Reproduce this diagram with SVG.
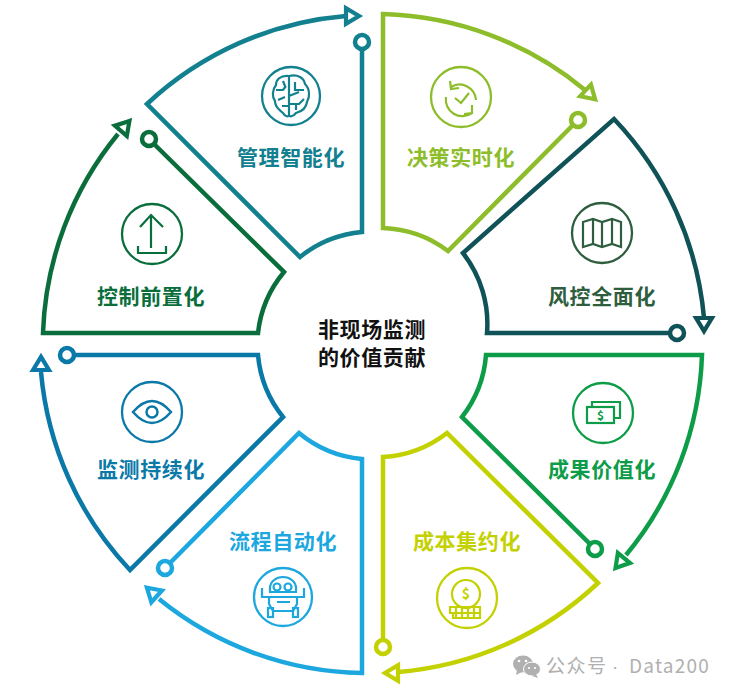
<svg xmlns="http://www.w3.org/2000/svg" width="733" height="696" viewBox="0 0 733 696">
<style>
text{font-family:"Noto Sans CJK SC","Noto Sans",sans-serif}
.lab{font-size:21px;font-weight:700;text-anchor:middle;letter-spacing:.6px}
.ctr{font-size:21px;font-weight:700;text-anchor:middle;fill:#111;letter-spacing:.6px}
.seg{fill:none;stroke:currentColor;stroke-width:4.5;stroke-linejoin:miter;stroke-miterlimit:10}
.dot{fill:#fff;stroke:currentColor;stroke-width:4.5}
.ic{fill:none;stroke:currentColor;stroke-width:2.2}
.ring{fill:none;stroke:currentColor;stroke-width:2.3}
.tip{fill:#fff;stroke:currentColor;stroke-width:4.200;stroke-linejoin:miter;stroke-miterlimit:10}
.cur{font-size:12px;font-weight:700;text-anchor:middle}
</style>
<defs>
<polygon id="ah" class="tip" points="-3.900,0 -17,-7.900 -17,7.900"/>
</defs>
<rect width="733" height="696" fill="#fff"/>
<g id="connectors">
<g style="color:#8dbd2a"><path class="seg" d="M585 90A331 331 0 0 0 383 14V228A115 115 0 0 1 448 251L574 124"/><use href="#ah" transform="translate(598 102) rotate(43)"/></g>
<g style="color:#0f5257"><path class="seg" d="M704 318A331 331 0 0 0 614 119L463 253A115 115 0 0 1 487 333H672"/><use href="#ah" transform="translate(704 335) rotate(90)"/></g>
<g style="color:#0d9c47"><path class="seg" d="M626 555A331 331 0 0 0 702 355H486A115 115 0 0 1 462 417L591 545"/><use href="#ah" transform="translate(613 571) rotate(130)"/></g>
<g style="color:#c3d100"><path class="seg" d="M398 672A331 331 0 0 0 598 583L447 433A115 115 0 0 1 383 457V641"/><use href="#ah" transform="translate(381 673) rotate(180)"/></g>
<g style="color:#1ca7df"><path class="seg" d="M159 599A331 331 0 0 0 362 673V459A115 115 0 0 1 299 433L169 564"/><use href="#ah" transform="translate(144 585) rotate(-138)"/></g>
<g style="color:#0a79a8"><path class="seg" d="M41 372A331 331 0 0 0 130 570L283 417A115 115 0 0 1 258 355H72"/><use href="#ah" transform="translate(41 353) rotate(-90)"/></g>
<g style="color:#0a6e3c"><path class="seg" d="M118 134A331 331 0 0 0 43 333H258A115 115 0 0 1 284 272L153 143"/><use href="#ah" transform="translate(132 118) rotate(-49)"/></g>
<g style="color:#12808f"><path class="seg" d="M346 16A331 331 0 0 0 147 104L300 257A115 115 0 0 1 362 232V47"/><use href="#ah" transform="translate(363 16)"/></g>
</g>
<g id="center"><text class="ctr" x="372" y="337">非现场监测</text><text class="ctr" x="372" y="365">的价值贡献</text></g>
<g id="n1" style="color:#8dbd2a">
<circle class="dot" cx="578" cy="120" r="7"/>
<circle class="ring" cx="461" cy="97" r="30"/>
<path class="ic" d="M451 87A16.500 16.500 0 0 1 476 100M450 81L451 89L459 88M446 97A16.500 16.500 0 0 0 472 113M472 105V113L464 114M455 98L461 103L469 93"/>
<text class="lab" x="461" y="165" fill="#8dbd2a">决策实时化</text>
</g>
<g id="n2" style="color:#2e5e3e">
<circle class="dot" cx="677" cy="333" r="7" style="color:#0f5257"/>
<circle class="ring" cx="602" cy="233" r="30"/>
<path class="ic" d="M583 222L593 219L602 222L612 219L621 222V247L612 244L602 247L593 244L583 247ZM593 219V244M602 222V247M612 219V244"/>
<text class="lab" x="602" y="304" fill="#2e5e3e">风控全面化</text>
</g>
<g id="n3" style="color:#0d9c47">
<circle class="dot" cx="595" cy="549" r="7"/>
<circle class="ring" cx="603" cy="413" r="30"/>
<path class="ic" d="M592 407V402H620V418H614"/><rect class="ic" x="587" y="407" width="27" height="16"/>
<text class="cur" x="600.500" y="420" fill="#0d9c47">$</text>
<text class="lab" x="602" y="477" fill="#0d9c47">成果价值化</text>
</g>
<g id="n4" style="color:#c3d100">
<circle class="dot" cx="383" cy="647" r="7"/>
<circle class="ring" cx="467" cy="598" r="30"/>
<circle class="ic" cx="466" cy="594" r="14"/>
<path class="ic" d="M450 607H480V613H450ZM453 613H480V618H453ZM456 607V618M462 607V618M468 607V618M474 607V618"/>
<text class="cur" x="466" y="599" style="font-size:14px" fill="#c3d100">$</text>
<text class="lab" x="467" y="549" fill="#c3d100">成本集约化</text>
</g>
<g id="n5" style="color:#1ca7df">
<circle class="dot" cx="165" cy="568" r="7"/>
<circle class="ring" cx="283" cy="597" r="29"/>
<path class="ic" d="M270 592V588A13 11 0 0 1 296 588V592ZM262 588V597H269V604L273 611H293L297 604V597H304V588M269 597H297M277 602H290"/>
<circle class="ic" cx="277" cy="587" r="3.500"/><circle class="ic" cx="288" cy="587" r="3.500"/>
<rect class="ic" x="268" y="608" width="5" height="9"/><rect class="ic" x="293" y="608" width="5" height="9"/>
<text class="lab" x="283" y="549" fill="#1ca7df">流程自动化</text>
</g>
<g id="n6" style="color:#0a79a8">
<circle class="dot" cx="67" cy="355" r="7"/>
<circle class="ring" cx="152" cy="412" r="30"/>
<path class="ic" style="stroke-width:2.500" d="M133 412Q152 390 171 412Q152 434 133 412Z"/>
<circle class="ic" style="stroke-width:2.500" cx="152" cy="412" r="5.500"/>
<text class="lab" x="151" y="477" fill="#0a79a8">监测持续化</text>
</g>
<g id="n7" style="color:#0a6e3c">
<circle class="dot" cx="149" cy="139" r="7"/>
<circle class="ring" cx="152" cy="234" r="30"/>
<path class="ic" d="M151 248V215M140 227L151 215L163 227M138 246V253H166V246"/>
<text class="lab" x="151" y="304" fill="#0a6e3c">控制前置化</text>
</g>
<g id="n8" style="color:#12808f">
<circle class="dot" cx="362" cy="42" r="7"/>
<circle class="ring" cx="291" cy="96" r="29"/>
<path class="ic" d="M289 76C280 75 276 80 276 85C272 90 272 97 275 101C275 108 280 110 283 113C285 117 289 117 289 115ZM289 76V116M289 76C298 74 304 78 305 84C310 89 310 97 307 102C306 109 300 112 296 113C293 117 289 117 289 115M276 90H283L286 86M278 100L285 97M282 106H289M283 81L285 86M295 82L295 90L304 90M289 96L299 92M289 104H299L304 99M296 110L296 104"/>
<text class="lab" x="291" y="165" fill="#12808f">管理智能化</text>
</g>
<g id="watermark">
<ellipse cx="523" cy="664" rx="10" ry="8.500" fill="#b0b0b0"/>
<path d="M517 670L516 675L522 672Z" fill="#b0b0b0"/>
<ellipse cx="532" cy="669" rx="8.500" ry="7" fill="#b0b0b0" stroke="#fff" stroke-width="1"/>
<path d="M536 674L538 678L532 676Z" fill="#b0b0b0"/>
<circle cx="519" cy="661" r="1.300" fill="#fff"/><circle cx="526" cy="661" r="1.300" fill="#fff"/>
<circle cx="529" cy="668" r="1.100" fill="#fff"/><circle cx="535" cy="668" r="1.100" fill="#fff"/>
<text y="673" font-size="19" fill="#b0b0b0"><tspan x="546" letter-spacing="1.500">公众号</tspan><tspan x="612" style="font-family:'Liberation Sans',sans-serif">·</tspan><tspan x="629" letter-spacing="1.200">Data200</tspan></text>
</g>
</svg>
